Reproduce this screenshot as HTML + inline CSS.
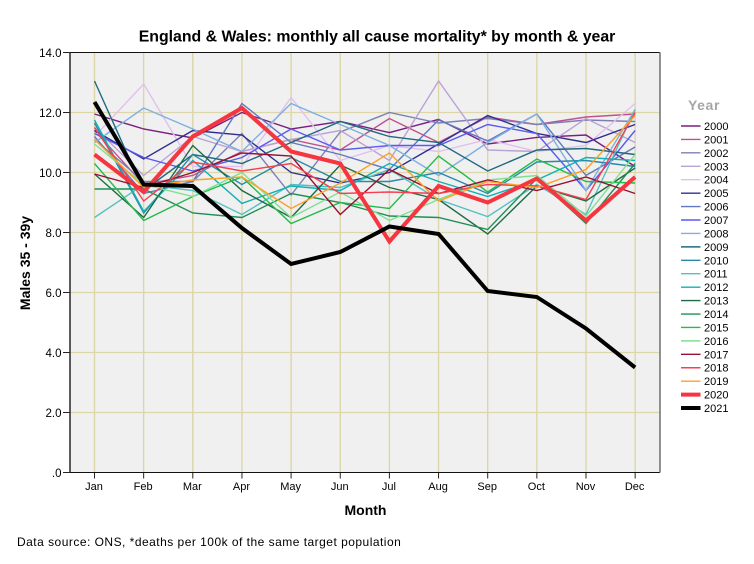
<!DOCTYPE html>
<html>
<head>
<meta charset="utf-8">
<title>England &amp; Wales mortality chart</title>
<style>
html,body{margin:0;padding:0;background:#fff;}
body{width:754px;height:564px;overflow:hidden;}
svg{display:block;font-family:"Liberation Sans",sans-serif;}
</style>
</head>
<body>
<svg id="chart" width="754" height="564" viewBox="0 0 754 564" xmlns="http://www.w3.org/2000/svg">
  <text x="377" y="41.500" text-anchor="middle" font-size="15.85" font-weight="bold" fill="#000">England &amp; Wales: monthly all cause mortality* by month &amp; year</text>
  <text transform="translate(30,263) rotate(-90)" text-anchor="middle" font-size="14" font-weight="bold" fill="#000">Males 35 - 39y</text>
  <text x="365.500" y="515" text-anchor="middle" font-size="14" font-weight="bold" fill="#000">Month</text>
  <text x="17" y="546" font-size="12" letter-spacing="0.48" fill="#000">Data source: ONS, *deaths per 100k of the same target population</text>
  <text x="688" y="110" font-size="14" font-weight="bold" letter-spacing="0.6" fill="#a6a6a6">Year</text>
  <g id="plot"></g>
  <g id="legend"></g>
</svg>
<script>
const months = ['Jan','Feb','Mar','Apr','May','Jun','Jul','Aug','Sep','Oct','Nov','Dec'];
const yTicks = [0,2,4,6,8,10,12,14];
const years = [2000,2001,2002,2003,2004,2005,2006,2007,2008,2009,2010,2011,2012,2013,2014,2015,2016,2017,2018,2019,2020,2021];
const s2000 = [11.95,11.45,11.15,12.0,11.45,11.7,11.33,11.77,10.95,11.17,11.25,10.2];
const s2001 = [11.4,9.6,9.9,10.7,11.1,10.75,11.8,11.0,11.85,11.6,11.85,11.95];
const s2002 = [11.1,9.7,9.7,11.3,9.25,11.35,12.0,11.65,11.8,11.6,11.75,11.7];
const s2003 = [11.5,9.9,11.2,10.7,11.1,11.4,10.4,13.05,10.75,10.7,11.8,11.0];
const s2004 = [11.2,12.95,10.2,10.2,12.5,10.4,10.9,10.7,11.1,10.7,10.9,12.3];
const s2005 = [11.4,10.45,11.4,11.25,10.0,9.65,10.0,10.95,11.9,11.3,11.0,11.6];
const s2006 = [11.2,9.3,9.7,12.3,11.0,10.6,10.1,11.75,11.05,11.95,9.9,10.85];
const s2007 = [11.3,10.5,10.05,10.5,11.45,10.75,10.9,10.9,11.6,11.3,9.4,11.4];
const s2008 = [11.0,12.15,11.45,10.7,12.3,11.6,10.9,9.9,11.0,11.95,9.4,12.1];
const s2009 = [13.05,9.4,10.6,10.3,11.0,11.7,11.2,11.0,10.05,10.75,10.8,10.6];
const s2010 = [11.65,8.65,10.6,9.6,10.5,9.7,9.7,10.0,9.3,10.35,10.4,10.2];
const s2011 = [8.5,9.6,9.4,8.6,9.6,9.5,10.1,9.1,8.53,9.6,8.6,12.1];
const s2012 = [11.75,8.7,10.4,8.97,9.55,9.4,10.3,9.7,9.2,9.75,10.5,10.4];
const s2013 = [9.95,8.5,10.9,9.4,8.5,10.25,9.5,9.1,7.95,9.55,9.05,10.15];
const s2014 = [9.45,9.45,8.65,8.5,9.3,9.0,8.55,8.5,8.1,9.8,8.3,10.3];
const s2015 = [10.3,8.4,9.2,9.85,8.3,9.0,8.8,10.55,9.35,10.45,9.7,9.65];
const s2016 = [10.95,9.6,9.2,10.0,8.5,9.35,8.4,9.1,9.75,9.9,8.55,10.6];
const s2017 = [9.95,9.5,10.0,10.65,10.55,8.6,10.1,9.3,9.75,9.4,9.85,9.3];
const s2018 = [11.5,9.05,10.35,10.05,10.3,9.3,9.35,9.3,9.6,9.55,9.1,12.0];
const s2019 = [11.1,9.5,9.75,9.85,8.8,9.65,10.65,9.05,9.7,9.5,10.1,11.9];
const s2020 = [10.6,9.35,11.2,12.15,10.7,10.3,7.7,9.55,9.0,9.8,8.4,9.85];
const s2021 = [12.35,9.6,9.55,8.15,6.95,7.35,8.2,7.95,6.05,5.85,4.8,3.5];
const seriesValues = [s2000,s2001,s2002,s2003,s2004,s2005,s2006,s2007,s2008,s2009,s2010,s2011,s2012,s2013,s2014,s2015,s2016,s2017,s2018,s2019,s2020,s2021];
const seriesColors = ['#7a1f7f','#c0518f','#7f7fb5','#b9a3d3','#e0c0f0','#2f2f8f','#5f78c0','#5a5af5','#7fb0e0','#206a80','#2a8aa8','#55c0c0','#10b0b5','#1f6a45','#1f9055','#25bb4c','#7fe090','#9a1030','#f54050','#fca028','#f53540','#000000'];
const seriesWidths = [1.4,1.4,1.4,1.4,1.4,1.4,1.4,1.4,1.4,1.4,1.4,1.4,1.4,1.4,1.4,1.4,1.4,1.4,1.4,1.4,4,4];

const NS = 'http://www.w3.org/2000/svg';
const plotLeft = 70, plotRight = 660, plotTop = 52.5, plotBottom = 472.5;
const yMax = 14;
const firstX = 94.5, stepX = 49.15;
function xScale(i){ return firstX + i * stepX; }
function yScale(v){ return plotBottom - (v / yMax) * (plotBottom - plotTop); }
function formatTick(v){ return v === 0 ? '.0' : v.toFixed(1); }
function make(tag, attrs, parent){
  const el = document.createElementNS(NS, tag);
  for (const k in attrs) el.setAttribute(k, attrs[k]);
  parent.appendChild(el);
  return el;
}
const plot = document.getElementById('plot');
const background = make('rect', {x:plotLeft, y:plotTop, width:plotRight-plotLeft, height:plotBottom-plotTop, fill:'#f0f0f0'}, plot);



months.forEach(function(m, i){
  const x = xScale(i);
  const grid = make('line', {x1:x, x2:x, y1:plotTop, y2:plotBottom, stroke:'#dcd6a8', 'stroke-width':1.4}, plot);
  
  
  const tick = make('line', {x1:x, x2:x, y1:plotBottom, y2:plotBottom+6, stroke:'#222', 'stroke-width':1}, plot);
  
  
  const label = make('text', {x:x-0.5, y:490, 'text-anchor':'middle', 'font-size':11, fill:'#000'}, plot);
  
  
  label.textContent = m;
});
yTicks.forEach(function(v){
  const y = yScale(v);
  if (v > 0 && v < yMax) {
    const grid = make('line', {x1:plotLeft, x2:plotRight, y1:y, y2:y, stroke:'#dcd6a8', 'stroke-width':1.3}, plot);
    
    
  }
  const tick = make('line', {x1:plotLeft-7, x2:plotLeft, y1:y, y2:y, stroke:'#222', 'stroke-width':1}, plot);
  
  
  const label = make('text', {x:plotLeft-8.5, y:y+4.5, 'text-anchor':'end', 'font-size':11.5, fill:'#000'}, plot);
  
  
  label.textContent = formatTick(v);
});
seriesValues.forEach(function(vals, s){
  const pts = vals.map(function(v, i){ return xScale(i).toFixed(1) + ',' + yScale(v).toFixed(1); }).join(' ');
  const line = make('polyline', {points:pts, fill:'none', stroke:seriesColors[s], 'stroke-width':seriesWidths[s], 'stroke-linejoin':'miter'}, plot);
  
  
});
const axisLeft = make('line', {x1:plotLeft, x2:plotLeft, y1:plotTop, y2:plotBottom+0.5, stroke:'#333', 'stroke-width':1.6}, plot);


const axisBottom = make('line', {x1:plotLeft, x2:plotRight, y1:plotBottom, y2:plotBottom, stroke:'#111', 'stroke-width':1}, plot);


const frameTop = make('line', {x1:plotLeft, x2:plotRight, y1:plotTop, y2:plotTop, stroke:'#111', 'stroke-width':1}, plot);


const frameRight = make('line', {x1:plotRight, x2:plotRight, y1:plotTop, y2:plotBottom, stroke:'#777', 'stroke-width':1.6}, plot);



const legend = document.getElementById('legend');
years.forEach(function(year, s){
  const y = 126 + s * 13.43;
  const swatch = make('line', {x1:681, x2:700.5, y1:y, y2:y, stroke:seriesColors[s], 'stroke-width':seriesWidths[s]}, legend);
  
  
  const label = make('text', {x:704, y:y+4, 'font-size':11, fill:'#000'}, legend);
  
  
  label.textContent = year;
});
</script>
</body>
</html>
